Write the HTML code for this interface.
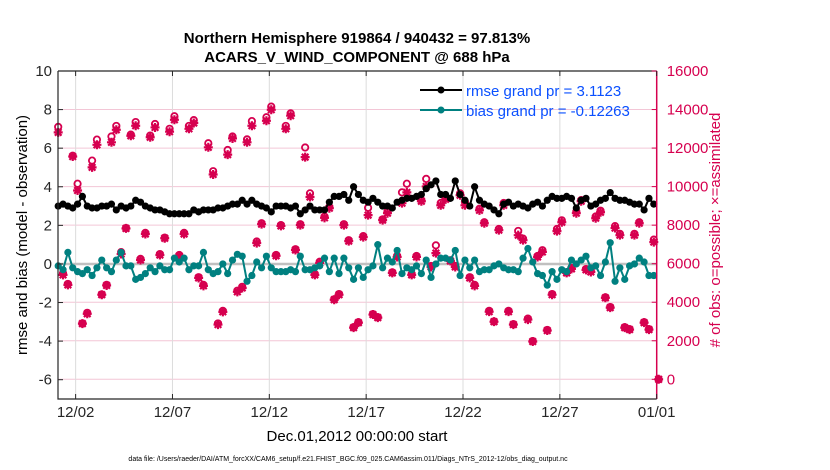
<!DOCTYPE html>
<html><head><meta charset="utf-8">
<style>
html,body{margin:0;padding:0;background:#fff;}
svg{display:block;font-family:"Liberation Sans",Arial,sans-serif;}
</style></head>
<body>
<svg id="chart" width="830" height="470" viewBox="0 0 830 470" xmlns="http://www.w3.org/2000/svg">
<g id="grid"></g>
<g id="marks"></g>
<g id="axes"></g>
<text x="357" y="43" text-anchor="middle" font-size="15" font-weight="bold">Northern Hemisphere 919864 / 940432 = 97.813%</text>
<text x="357" y="62" text-anchor="middle" font-size="15" font-weight="bold">ACARS_V_WIND_COMPONENT @ 688 hPa</text>
<text transform="translate(27,235) rotate(-90)" text-anchor="middle" font-size="15">rmse and bias (model - observation)</text>
<text transform="translate(720,230) rotate(-90)" text-anchor="middle" font-size="15" fill="#d6004f"># of obs: o=possible; ×=assimilated</text>
<text x="357" y="441" text-anchor="middle" font-size="15">Dec.01,2012 00:00:00 start</text>
<text x="348" y="461" text-anchor="middle" font-size="7">data file: /Users/raeder/DAI/ATM_forcXX/CAM6_setup/f.e21.FHIST_BGC.f09_025.CAM6assim.011/Diags_NTrS_2012-12/obs_diag_output.nc</text>
<g>
  <line x1="420" y1="90" x2="462" y2="90" stroke="#000" stroke-width="2"/>
  <circle cx="441" cy="90" r="3.5" fill="#000"/>
  <text x="466" y="96" font-size="15" fill="#0a50ff">rmse grand pr = 3.1123</text>
  <line x1="420" y1="110" x2="462" y2="110" stroke="#008080" stroke-width="2"/>
  <circle cx="441" cy="110" r="3.5" fill="#008080"/>
  <text x="466" y="116" font-size="15" fill="#0a50ff">bias grand pr = -0.12263</text>
</g>
</svg>
<script>
const xTickLabels = ["12/02","12/07","12/12","12/17","12/22","12/27","01/01"];
const xTickDays = [1,6,11,16,21,26,31];
const yLeftTicks = [10,8,6,4,2,0,-2,-4,-6];
const yRightTicks = [16000,14000,12000,10000,8000,6000,4000,2000,0];
const rmse = [3.0,3.1,3.0,2.9,3.1,3.5,3.0,2.9,2.9,3.0,3.0,3.1,2.8,3.0,2.9,3.0,3.3,3.2,3.0,2.9,2.8,2.8,2.7,2.6,2.6,2.6,2.6,2.6,2.8,2.7,2.8,2.8,2.8,2.9,2.9,3.0,3.1,3.1,3.3,3.1,3.3,3.1,3.0,2.9,2.7,3.0,3.0,3.0,2.9,3.0,2.6,2.8,3.0,2.8,2.8,2.8,3.2,3.5,3.5,3.6,3.3,4.0,3.6,3.3,3.2,3.4,3.2,3.0,3.0,2.9,3.2,3.3,3.4,3.4,3.5,3.6,3.9,4.1,4.3,3.6,3.6,3.4,4.3,3.6,3.3,3.0,4.0,3.3,3.1,3.0,2.8,2.6,3.1,3.2,3.0,3.1,3.0,2.9,3.1,3.2,3.0,3.3,3.5,3.4,3.4,3.5,3.4,2.9,3.3,3.4,3.0,3.1,3.3,3.4,3.7,3.4,3.3,3.3,3.2,3.1,3.1,2.8,3.4,3.1];
const bias = [-0.1,-0.3,0.6,-0.2,-0.4,-0.5,-0.3,-0.6,-0.2,0.2,-0.2,-0.4,0.2,0.6,-0.1,-0.1,-0.8,-0.7,-0.5,-0.2,-0.4,-0.1,-0.3,-0.3,0.3,0.1,0.3,-0.3,-0.1,-0.1,0.6,-0.3,-0.5,-0.4,0.0,-0.5,0.2,0.5,0.4,-0.9,-0.6,0.1,-0.2,0.4,-0.2,-0.4,-0.4,-0.4,-0.3,-0.4,0.4,-0.3,-0.3,-0.2,-0.1,0.3,-0.4,0.3,-0.5,0.3,-0.2,-0.8,-0.2,-0.7,-0.3,-0.1,1.0,-0.2,0.3,0.1,0.7,-0.5,-0.2,-0.3,-0.1,-0.5,0.2,-0.7,0.0,0.3,0.3,0.2,0.7,-0.6,0.2,-0.2,0.2,-0.4,-0.3,-0.3,-0.1,0.0,-0.2,-0.3,-0.3,-0.4,0.3,0.8,0.1,-0.5,-0.6,-1.1,-0.4,-0.8,-0.3,-0.4,0.2,0.0,0.2,0.4,-0.2,-0.1,-0.6,0.1,1.1,-0.9,-0.2,-0.8,-0.1,0.0,0.3,0.1,-0.6,-0.6];
const nPossible = [13100,5500,4950,11600,10150,2900,3450,11350,12440,4400,4900,12600,13150,6600,7850,12700,13350,6250,7600,12650,13250,6500,7350,13000,13650,6450,7600,13150,13450,5300,4900,12250,10800,2900,3550,11900,12600,4600,4800,12450,13400,7150,8100,13600,14150,6450,8000,13150,13800,6750,8050,12030,9650,5450,6100,8450,8950,4150,4420,8050,7220,2700,2960,7430,8900,3380,3220,8300,8700,5550,6400,9700,10150,5450,6400,9300,10400,5880,6950,9150,9500,6180,5880,9650,9200,5300,4900,8850,8150,3550,3000,7800,9150,3550,2860,7700,7300,3150,1980,6400,6700,2560,4420,7800,8250,5550,5780,8700,9300,5720,5620,8450,8750,4250,3750,7950,7550,2700,2600,7550,8150,2960,2600,7250,0];
const nAssim = [12815,5420,4900,11560,9800,2890,3400,11000,12170,4390,4870,12300,12950,6500,7830,12640,13160,6190,7540,12560,13070,6450,7320,12850,13470,6400,7540,13000,13300,5260,4850,12040,10630,2840,3500,11660,12500,4540,4740,12300,13160,7070,8050,13420,13990,6410,7960,13000,13680,6710,8000,11530,9460,5420,6040,8380,8880,4130,4390,8000,7170,2680,2940,7380,8520,3360,3200,8260,8620,5520,6350,9140,9700,5420,6350,9240,10010,5830,6550,9030,9340,6140,5830,9550,9030,5260,4850,8770,8100,3510,2990,7740,9030,3510,2840,7480,7220,3100,1960,6350,6610,2530,4390,7690,8150,5520,5730,8620,9240,5680,5570,8360,8670,4230,3720,7850,7480,2680,2580,7480,8100,2940,2580,7120,0];

const NS="http://www.w3.org/2000/svg";
const X0=58, X1=656.7, Y0=71, Y1=399;
const D0=0.09, D1=31.0;
const xs = d => X0 + (d-D0)/(D1-D0)*(X1-X0);
const yL = v => Y0 + (10-v)/17*(Y1-Y0);
const yR = v => 379.3 - v/16000*(379.3-Y0);
const PINK="#d6004f", TEAL="#008080";
function mk(tag, attrs, parent){const e=document.createElementNS(NS,tag);for(const k in attrs)e.setAttribute(k,attrs[k]);parent.appendChild(e);return e;}
const grid=document.getElementById('grid'), marks=document.getElementById('marks'), axes=document.getElementById('axes');

yRightTicks.forEach(v=>{const l=mk('line',{x1:X0,x2:X1,y1:yR(v),y2:yR(v),stroke:'#f3c6d6','stroke-width':1},grid);

});
xTickDays.forEach(d=>{const l=mk('line',{x1:xs(d),x2:xs(d),y1:Y0,y2:Y1,stroke:'#dcdcdc','stroke-width':1},grid);

});
const zl=mk('line',{x1:X0,x2:X1,y1:yL(0),y2:yL(0),stroke:'#c0c0c0','stroke-width':2.5},grid);



const obsDay = i => 0.1 + i*0.25;
nPossible.forEach((v,i)=>{const c=mk('circle',{cx:xs(obsDay(i)),cy:yR(v),r:3.2,fill:'none',stroke:PINK,'stroke-width':1.8},marks);

});
nAssim.forEach((v,i)=>{const x=xs(obsDay(i)), y=yR(v);
const g=mk('path',{d:`M${x-4.5},${y}H${x+4.5}M${x},${y-4.5}V${y+4.5}M${x-3.3},${y-3.3}L${x+3.3},${y+3.3}M${x-3.3},${y+3.3}L${x+3.3},${y-3.3}`,stroke:PINK,'stroke-width':2.2},marks);

});

const serDay = i => 0.1 + i*0.25;
function series(arr,color,name){
  const pts=arr.map((v,i)=>xs(serDay(i)).toFixed(1)+','+yL(v).toFixed(1)).join(' ');
  const pl=mk('polyline',{points:pts,fill:'none',stroke:color,'stroke-width':2},marks);
  
  
  arr.forEach((v,i)=>{const c=mk('circle',{cx:xs(serDay(i)),cy:yL(v),r:3.6,fill:color},marks);
  
  });
}
series(bias,TEAL,'bias');
series(rmse,'#000','rmse');

mk('path',{d:`M${X0},${Y0}V${Y1}H${X1}M${X0},${Y0}H${X1}`,stroke:'#262626','stroke-width':1.2,fill:'none'},axes);
mk('line',{x1:X1,x2:X1,y1:Y0,y2:Y1,stroke:PINK,'stroke-width':1.5},axes);
yLeftTicks.forEach(v=>{mk('line',{x1:X0,x2:X0+5,y1:yL(v),y2:yL(v),stroke:'#262626'},axes);
const t=mk('text',{x:X0-6,y:yL(v)+5,'text-anchor':'end','font-size':15,fill:'#262626'},axes);t.textContent=v;

});
yRightTicks.forEach(v=>{mk('line',{x1:X1-5,x2:X1,y1:yR(v),y2:yR(v),stroke:PINK},axes);
const t=mk('text',{x:X1+10,y:yR(v)+5,'font-size':15,fill:PINK},axes);t.textContent=v;

});
xTickDays.forEach((d,i)=>{mk('line',{x1:xs(d),x2:xs(d),y1:Y1,y2:Y1-5,stroke:'#262626'},axes);
mk('line',{x1:xs(d),x2:xs(d),y1:Y0,y2:Y0+5,stroke:'#262626'},axes);
const t=mk('text',{x:xs(d),y:Y1+18,'text-anchor':'middle','font-size':15,fill:'#262626'},axes);t.textContent=xTickLabels[i];

});
</script>
</body></html>
